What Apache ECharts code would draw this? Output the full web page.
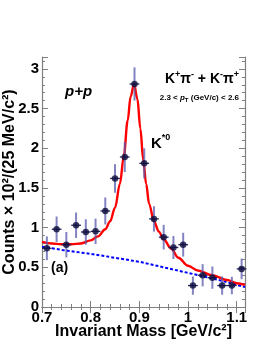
<!DOCTYPE html>
<html><head><meta charset="utf-8">
<script src="https://cdn.jsdelivr.net/npm/echarts@6/dist/echarts.min.js"></script>
<style>html,body{margin:0;padding:0;background:#fff}#c{width:266px;height:344px}</style>
</head><body><div id="c"></div>
<script>
// ---- data ----
const massBins = [0.71,0.73,0.75,0.77,0.79,0.81,0.83,0.85,0.87,0.89,0.91,0.93,0.95,0.97,0.99,1.01,1.03,1.05,1.07,1.09,1.11];
const counts   = [0.74,0.98,0.785,1.03,0.945,0.953,1.21,1.62,1.89,2.81,1.81,1.11,0.88,0.75,0.785,0.27,0.40,0.37,0.27,0.27,0.48];
const countErr = [0.15,0.16,0.16,0.16,0.16,0.16,0.17,0.18,0.19,0.21,0.19,0.16,0.155,0.145,0.15,0.115,0.14,0.14,0.115,0.11,0.13];
const binHalfWidth = [0.01,0.01,0.01,0.01,0.01,0.01,0.01,0.01,0.01,0.01,0.01,0.01,0.01,0.01,0.01,0.01,0.01,0.01,0.01,0.01,0.01];

const fitMass = [0.700,0.720,0.740,0.760,0.780,0.800,0.815,0.830,0.840,0.850,0.860,0.868,0.876,0.882,0.889,0.896,0.902,0.908,0.914,0.920,0.930,0.940,0.950,0.965,0.980,1.000,1.020,1.050,1.080,1.100,1.117];
const fitTotal = [0.82,0.80,0.79,0.79,0.80,0.84,0.89,0.98,1.08,1.25,1.55,1.90,2.35,2.65,2.81,2.62,2.25,1.85,1.55,1.30,1.08,0.95,0.85,0.74,0.62,0.52,0.46,0.40,0.34,0.30,0.28];

const bkgMass = [0.700,0.750,0.800,0.850,0.900,0.950,1.000,1.050,1.100,1.117];
const bkgVal  = [0.76,0.71,0.67,0.62,0.57,0.50,0.43,0.36,0.28,0.25];

const xRange = [0.7, 1.117];
const yRange = [0, 3.15];
const xTickStep = 0.1;
const yTickStep = 0.5;

const FONT = "'Liberation Sans', Arial, Helvetica, sans-serif";
const AX = '#7f7f7f';

const chart = echarts.init(document.getElementById('c'), null, {renderer: 'canvas'});

const tickLab = {fontFamily: FONT, fontWeight: 'bold', fontSize: 15, color: '#000'};

function axisCommon(show) {
  return {
    axisLine: {show: true, lineStyle: {color: AX, width: 1.2}},
    axisTick: {show: true, inside: true, length: 6, lineStyle: {color: AX, width: 1}},
    minorTick: {show: true, splitNumber: 5, length: 3, lineStyle: {color: AX, width: 1}},
    splitLine: {show: false},
    axisLabel: show ? Object.assign({showMaxLabel: false}, tickLab) : {show: false}
  };
}

const errData = massBins.map((m, i) => [m, counts[i], countErr[i], binHalfWidth[i]]);

const option = {
  animation: false,
  backgroundColor: '#fff',
  grid: {left: 42, right: 21, top: 57, bottom: 37, containLabel: false, outerBoundsMode: 'none'},
  xAxis: [
    Object.assign({type: 'value', min: xRange[0], max: xRange[1], interval: xTickStep, position: 'bottom',
      name: 'Invariant Mass [GeV/c²]', nameLocation: 'middle', nameGap: 17, nameMoveOverlap: false,
      nameTextStyle: {fontFamily: FONT, fontWeight: 'bold', fontSize: 16, color: '#000', verticalAlign: 'top'}}, axisCommon(true),
      {axisLabel: Object.assign({showMaxLabel: false, margin: 3}, tickLab)}),
    Object.assign({type: 'value', min: xRange[0], max: xRange[1], interval: xTickStep, position: 'top'}, axisCommon(false))
  ],
  yAxis: [
    Object.assign({type: 'value', min: yRange[0], max: yRange[1], interval: yTickStep, position: 'left',
      name: 'Counts × 10²/(25 MeV/c²)', nameLocation: 'middle', nameGap: 24, nameMoveOverlap: false,
      nameTextStyle: {fontFamily: FONT, fontWeight: 'bold', fontSize: 16, color: '#000', verticalAlign: 'bottom'}}, axisCommon(true),
      {axisLabel: Object.assign({showMaxLabel: false, margin: 3}, tickLab)}),
    Object.assign({type: 'value', min: yRange[0], max: yRange[1], interval: yTickStep, position: 'right'}, axisCommon(false))
  ],
  series: [
    {
      type: 'line', data: bkgMass.map((m, i) => [m, bkgVal[i]]), showSymbol: false, symbol: 'none',
      lineStyle: {color: '#0000ff', width: 2, type: [3, 2]}, z: 2, clip: true
    },
    {
      type: 'line', data: fitMass.map((m, i) => [m, fitTotal[i]]), showSymbol: false, symbol: 'none',
      smooth: 0.35, smoothMonotone: 'x',
      lineStyle: {color: '#ff0000', width: 2.4}, z: 3, clip: true
    },
    {
      type: 'custom', data: errData, z: 4, clip: false,
      renderItem: function (params, api) {
        const x = api.value(0), y = api.value(1), e = api.value(2), w = api.value(3);
        const top = api.coord([x, y + e]);
        const bot = api.coord([x, y - e]);
        const l = api.coord([x - w, y]);
        const r = api.coord([x + w, y]);
        return {type: 'group', children: [
          {type: 'line', shape: {x1: top[0], y1: top[1], x2: bot[0], y2: bot[1]},
           style: {stroke: 'rgba(90,90,175,0.75)', lineWidth: 2}},
          {type: 'line', shape: {x1: l[0], y1: l[1], x2: r[0], y2: r[1]},
           style: {stroke: '#26265e', lineWidth: 1.3}}
        ]};
      }
    },
    {
      type: 'scatter', data: massBins.map((m, i) => [m, counts[i]]), symbol: 'circle', symbolSize: 6.5,
      itemStyle: {color: '#0b0b3b'}, z: 5
    }
  ],
  graphic: [
    {type: 'text', left: 65, top: 84, style: {text: 'p+p', font: "italic bold 15px " + FONT, fill: '#000'}},
    {type: 'text', right: 27, top: 70, style: {
      text: '{b|K}{s|+}{b|π}{s|-}{b| + K}{s|-}{b|π}{s|+}',
      rich: {
        b: {fontFamily: FONT, fontWeight: 'bold', fontSize: 14, fill: '#000', lineHeight: 16, verticalAlign: 'bottom'},
        s: {fontFamily: FONT, fontWeight: 'bold', fontSize: 9, fill: '#000', lineHeight: 16, verticalAlign: 'top'}
      }}},
    {type: 'text', right: 27, top: 94, style: {
      text: '{n|2.3 < }{i|p}{t|T}{n| (GeV/c) < 2.6}',
      rich: {
        n: {fontFamily: FONT, fontWeight: 'bold', fontSize: 8, fill: '#000', lineHeight: 11, verticalAlign: 'middle'},
        i: {fontFamily: FONT, fontWeight: 'bold', fontStyle: 'italic', fontSize: 8, fill: '#000', lineHeight: 11, verticalAlign: 'middle'},
        t: {fontFamily: FONT, fontWeight: 'bold', fontSize: 6, fill: '#000', lineHeight: 11, verticalAlign: 'bottom'}
      }}},
    {type: 'text', left: 151, top: 133, style: {
      text: '{b|K}{s|*0}',
      rich: {
        b: {fontFamily: FONT, fontWeight: 'bold', fontSize: 15, fill: '#000', lineHeight: 18, verticalAlign: 'bottom'},
        s: {fontFamily: FONT, fontWeight: 'bold', fontSize: 9, fill: '#000', lineHeight: 12, verticalAlign: 'top'}
      }}},
    {type: 'text', left: 51, top: 261, style: {text: '(a)', font: "bold 14px " + FONT, fill: '#000'}}
  ]
};
chart.setOption(option);
</script>
</body></html>
